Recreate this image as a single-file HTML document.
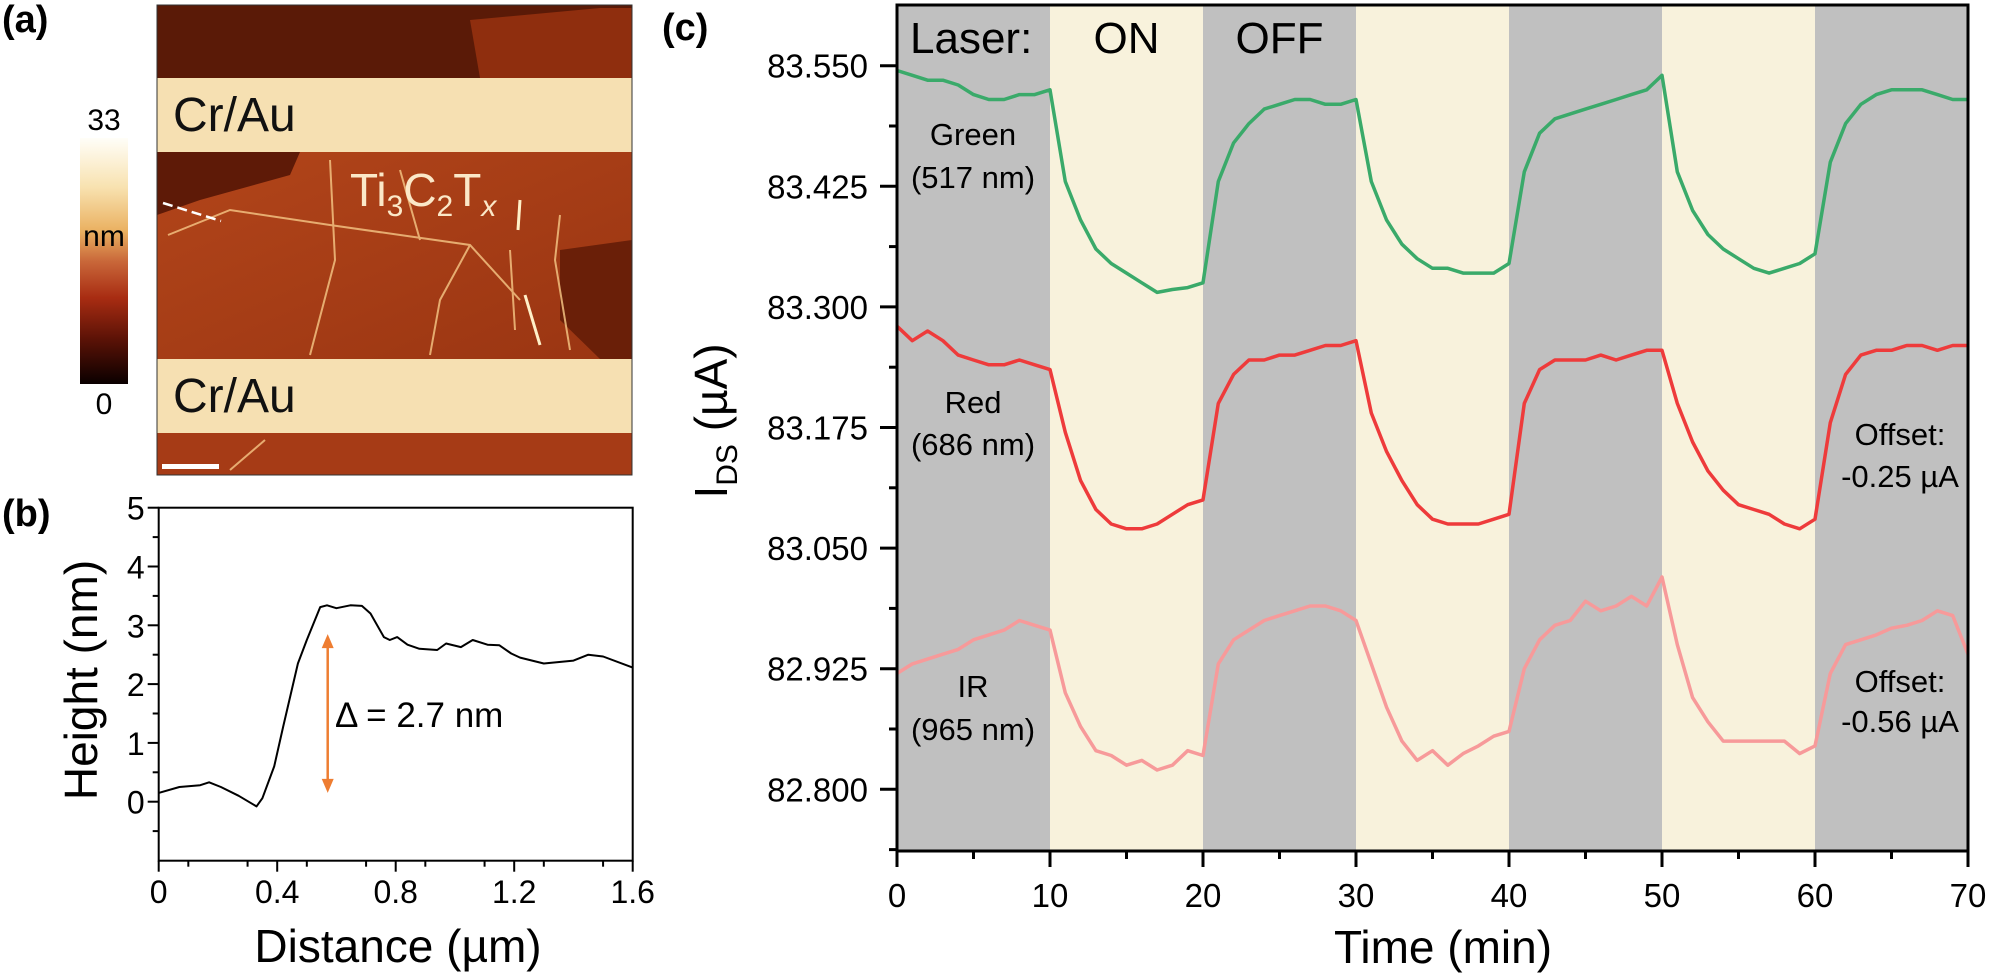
<!DOCTYPE html>
<html><head><meta charset="utf-8">
<style>
html,body{margin:0;padding:0;background:#fff;}
svg{display:block;font-family:"Liberation Sans",Arial,sans-serif;}
</style></head>
<body>
<svg id="fig" width="1994" height="977" viewBox="0 0 1994 977" xmlns="http://www.w3.org/2000/svg">
<defs>
<linearGradient id="cbar" x1="0" y1="0" x2="0" y2="1">
<stop offset="0" stop-color="#fffef8"/><stop offset="0.2" stop-color="#f8e2b0"/><stop offset="0.38" stop-color="#eab060"/><stop offset="0.5" stop-color="#c9683a"/><stop offset="0.65" stop-color="#a82c12"/><stop offset="0.82" stop-color="#5a1206"/><stop offset="1" stop-color="#0a0000"/>
</linearGradient>
<linearGradient id="flake" x1="0" y1="0" x2="1" y2="1">
<stop offset="0" stop-color="#b2451a"/><stop offset="1" stop-color="#9a3512"/>
</linearGradient>
<clipPath id="afmclip"><rect x="157" y="5" width="475" height="470"/></clipPath>
</defs>

<!-- Panel labels -->
<text x="2" y="32" font-size="38" font-weight="bold">(a)</text>
<text x="2" y="526" font-size="38" font-weight="bold">(b)</text>
<text x="662" y="40" font-size="38" font-weight="bold">(c)</text>

<!-- Colorbar -->
<g>
<rect x="80" y="138" width="48" height="246" fill="url(#cbar)"/>
<text x="104" y="130" font-size="30" text-anchor="middle">33</text>
<text x="104" y="246" font-size="30" text-anchor="middle">nm</text>
<text x="104" y="414" font-size="30" text-anchor="middle">0</text>
</g>

<!-- AFM image -->
<g clip-path="url(#afmclip)">
<rect x="157" y="5" width="475" height="470" fill="#7a2408"/>
<rect x="157" y="5" width="475" height="73" fill="#5a1a07"/>
<polygon points="470,20 600,8 632,8 632,78 480,78" fill="#8f2e0e"/>
<rect x="157" y="152" width="475" height="207" fill="url(#flake)"/>
<polygon points="157,152 300,152 290,175 200,200 157,215" fill="#5e1a07"/>
<polygon points="560,250 632,240 632,359 600,359 560,320" fill="#6a1f08"/>
<rect x="157" y="433" width="475" height="42" fill="#a63b16"/>
<rect x="157" y="78" width="475" height="74" fill="#f6e0b2"/>
<rect x="157" y="359" width="475" height="74" fill="#f6e0b2"/>
<g stroke="#f2c080" stroke-width="2" fill="none" opacity="0.85">
<path d="M168,235 L230,210 L330,225 L470,245 L520,300"/>
<path d="M330,160 L335,260 L310,355"/>
<path d="M470,245 L440,300 L430,355"/>
<path d="M510,250 L515,330"/>
<path d="M560,215 L555,260 L570,350"/>
<path d="M400,170 L420,240"/>
<path d="M230,470 L265,440"/>
</g>
<path d="M525,295 L540,345" stroke="#fff0c8" stroke-width="3"/>
<path d="M520,200 L518,230" stroke="#fff0c8" stroke-width="3"/>
<path d="M163,203 L221,221" stroke="#ffffff" stroke-width="2.5" stroke-dasharray="10,5"/>
<rect x="162" y="464" width="57" height="5" fill="#ffffff"/>
<text x="173" y="131" font-size="48" fill="#111">Cr/Au</text>
<text x="173" y="412" font-size="48" fill="#111">Cr/Au</text>
<text x="350" y="206" font-size="46" fill="#fbe8c8">Ti<tspan font-size="30" dy="10">3</tspan><tspan dy="-10">C</tspan><tspan font-size="30" dy="10">2</tspan><tspan dy="-10">T</tspan><tspan font-size="30" dy="10" font-style="italic">x</tspan></text>
</g>
<rect x="157" y="5" width="475" height="470" fill="none" stroke="#333" stroke-width="1"/>

<g id="panelB"></g>
<g id="panelC"></g>
</svg>

<script>
// ---------- Panel (b) data ----------
const profileDistance = [0,0.07,0.14,0.17,0.21,0.27,0.33,0.35,0.39,0.42,0.47,0.50,0.545,0.568,0.60,0.647,0.686,0.715,0.76,0.78,0.805,0.84,0.88,0.94,0.97,1.02,1.06,1.11,1.15,1.19,1.22,1.30,1.40,1.45,1.50,1.60];
const profileHeight   = [0.15,0.25,0.28,0.33,0.25,0.10,-0.08,0.06,0.6,1.27,2.35,2.75,3.31,3.34,3.29,3.34,3.33,3.2,2.8,2.75,2.8,2.67,2.6,2.58,2.69,2.63,2.75,2.67,2.66,2.52,2.45,2.35,2.4,2.5,2.47,2.28];
const bXTicks = [0,0.4,0.8,1.2,1.6];
const bXTickLabels = ["0","0.4","0.8","1.2","1.6"];
const bYTicks = [0,1,2,3,4,5];
const bYTickLabels = ["0","1","2","3","4","5"];
const stepBottom = 0.15, stepTop = 2.85;

// ---------- Panel (c) data ----------
const timeMin = [];
for (let i = 0; i <= 70; i++) timeMin.push(i);
const greenCurrent = [83.545,83.54,83.535,83.535,83.53,83.52,83.515,83.515,83.52,83.52,83.525,
 83.43,83.39,83.36,83.345,83.335,83.325,83.315,83.318,83.32,83.325,
 83.43,83.47,83.49,83.505,83.51,83.515,83.515,83.51,83.51,83.515,
 83.43,83.39,83.365,83.35,83.34,83.34,83.335,83.335,83.335,83.345,
 83.44,83.48,83.495,83.5,83.505,83.51,83.515,83.52,83.525,83.54,
 83.44,83.4,83.375,83.36,83.35,83.34,83.335,83.34,83.345,83.355,
 83.45,83.49,83.51,83.52,83.525,83.525,83.525,83.52,83.515,83.515];
const redCurrent = [83.28,83.265,83.275,83.265,83.25,83.245,83.24,83.24,83.245,83.24,83.235,
 83.17,83.12,83.09,83.075,83.07,83.07,83.075,83.085,83.095,83.1,
 83.2,83.23,83.245,83.245,83.25,83.25,83.255,83.26,83.26,83.265,
 83.19,83.15,83.12,83.095,83.08,83.075,83.075,83.075,83.08,83.085,
 83.2,83.235,83.245,83.245,83.245,83.25,83.245,83.25,83.255,83.255,
 83.2,83.16,83.13,83.11,83.095,83.09,83.085,83.075,83.07,83.08,
 83.18,83.23,83.25,83.255,83.255,83.26,83.26,83.255,83.26,83.26];
const irCurrent = [82.92,82.93,82.935,82.94,82.945,82.955,82.96,82.965,82.975,82.97,82.965,
 82.9,82.865,82.84,82.835,82.825,82.83,82.82,82.825,82.84,82.835,
 82.93,82.955,82.965,82.975,82.98,82.985,82.99,82.99,82.985,82.975,
 82.93,82.885,82.85,82.83,82.84,82.825,82.837,82.845,82.855,82.86,
 82.925,82.955,82.97,82.975,82.995,82.985,82.99,83.0,82.99,83.02,
 82.95,82.895,82.87,82.85,82.85,82.85,82.85,82.85,82.837,82.845,
 82.92,82.95,82.955,82.96,82.967,82.97,82.975,82.985,82.98,82.94];
const cXTicks = [0,10,20,30,40,50,60,70];
const cXTickLabels = ["0","10","20","30","40","50","60","70"];
const cYTicks = [83.55,83.425,83.3,83.175,83.05,82.925,82.8];
const cYTickLabels = ["83.550","83.425","83.300","83.175","83.050","82.925","82.800"];
const laserStart = [10,30,50];
const laserEnd = [20,40,60];

const NS = "http://www.w3.org/2000/svg";
function mk(parent, tag, attrs, text) {
  const el = document.createElementNS(NS, tag);
  for (const k in attrs) el.setAttribute(k, attrs[k]);
  if (text !== undefined) el.textContent = text;
  parent.appendChild(el);
  return el;
}

// ---------- Panel (b) ----------
(function(){
  const g = document.getElementById('panelB');
  const L = 158.7, R = 632.7, T = 507.7, B = 860.7;
  const xs = d => L + d / 1.6 * (R - L);
  const ys = h => 801.7 - h * 58.8;
  // minor ticks
  for (let d = 0.1; d < 1.6; d += 0.2) {
    const t = mk(g, 'line', {x1: xs(d), x2: xs(d), y1: B, y2: B + 6, stroke: '#000', 'stroke-width': 2});
    
    
  }
  for (let h = -0.5; h < 5; h += 1) {
    const t = mk(g, 'line', {x1: L - 6, x2: L, y1: ys(h), y2: ys(h), stroke: '#000', 'stroke-width': 2});
    
    
  }
  bXTicks.forEach((d, i) => {
    const t = mk(g, 'line', {x1: xs(d), x2: xs(d), y1: B, y2: B + 11, stroke: '#000', 'stroke-width': 2});
    
    
    const lb = mk(g, 'text', {x: xs(d), y: 903, 'font-size': 32, 'text-anchor': 'middle'}, bXTickLabels[i]);
    
    
  });
  bYTicks.forEach((h, i) => {
    const t = mk(g, 'line', {x1: L - 11, x2: L, y1: ys(h), y2: ys(h), stroke: '#000', 'stroke-width': 2});
    
    
    const lb = mk(g, 'text', {x: L - 14, y: ys(h) + 12, 'font-size': 32, 'text-anchor': 'end'}, bYTickLabels[i]);
    
    
  });
  const fr = mk(g, 'rect', {x: L, y: T, width: R - L, height: B - T, fill: 'none', stroke: '#000', 'stroke-width': 2});
  
  
  const pts = profileDistance.map((d, i) => xs(d).toFixed(1) + ',' + ys(profileHeight[i]).toFixed(1)).join(' ');
  const ln = mk(g, 'polyline', {points: pts, fill: 'none', stroke: '#000', 'stroke-width': 2, 'stroke-linejoin': 'round'});
  
  
  // arrow
  const ax = 327.7, y1 = ys(stepTop), y2 = ys(stepBottom);
  const ar = mk(g, 'line', {x1: ax, x2: ax, y1: y1 + 8, y2: y2 - 8, stroke: '#ee7d31', 'stroke-width': 2.5});
  
  
  const h1 = mk(g, 'polygon', {points: `${ax-6},${y1+14} ${ax+6},${y1+14} ${ax},${y1}`, fill: '#ee7d31'});
  
  
  const h2 = mk(g, 'polygon', {points: `${ax-6},${y2-14} ${ax+6},${y2-14} ${ax},${y2}`, fill: '#ee7d31'});
  
  
  const dl = mk(g, 'text', {x: 335, y: 727, 'font-size': 35}, 'Δ = 2.7 nm');
  
  
  const yt = mk(g, 'text', {x: 0, y: 0, 'font-size': 46, 'text-anchor': 'middle', transform: 'translate(97,680) rotate(-90)'}, 'Height (nm)');
  
  
  const xt = mk(g, 'text', {x: 398, y: 962, 'font-size': 46, 'text-anchor': 'middle'}, 'Distance (µm)');
  
  
})();

// ---------- Panel (c) ----------
(function(){
  const g = document.getElementById('panelC');
  const L = 897, R = 1968, T = 5, B = 851;
  const xs = t => L + t / 70 * (R - L);
  const ys = v => 65.7 + (83.55 - v) / 0.125 * 120.6;
  const bg = mk(g, 'rect', {x: L, y: T, width: R - L, height: B - T, fill: '#c0c0c0'});
  
  
  laserStart.forEach((s, i) => {
    const r = mk(g, 'rect', {x: xs(s), y: T, width: xs(laserEnd[i]) - xs(s), height: B - T, fill: '#f8f2dc'});
    
    
  });
  function series(vals, color, name) {
    const pts = timeMin.map((t, i) => xs(t).toFixed(1) + ',' + ys(vals[i]).toFixed(1)).join(' ');
    const p = mk(g, 'polyline', {points: pts, fill: 'none', stroke: color, 'stroke-width': 3.5, 'stroke-linejoin': 'round'});
    
    
  }
  series(greenCurrent, '#3aaa6a', 'green-series');
  series(redCurrent, '#ee3b3b', 'red-series');
  series(irCurrent, '#f79a9a', 'ir-series');
  // ticks
  for (let t = 5; t < 70; t += 10) {
    const m = mk(g, 'line', {x1: xs(t), x2: xs(t), y1: B, y2: B + 8, stroke: '#000', 'stroke-width': 3});
    
    
  }
  cXTicks.forEach((t, i) => {
    const m = mk(g, 'line', {x1: xs(t), x2: xs(t), y1: B, y2: B + 16, stroke: '#000', 'stroke-width': 3});
    
    
    const lb = mk(g, 'text', {x: xs(t), y: 907, 'font-size': 33, 'text-anchor': 'middle'}, cXTickLabels[i]);
    
    
  });
  for (let v = 83.4875; v > 82.73; v -= 0.125) {
    const m = mk(g, 'line', {x1: L - 8, x2: L, y1: ys(v), y2: ys(v), stroke: '#000', 'stroke-width': 3});
    
    
  }
  cYTicks.forEach((v, i) => {
    const m = mk(g, 'line', {x1: L - 17, x2: L, y1: ys(v), y2: ys(v), stroke: '#000', 'stroke-width': 3});
    
    
    const lb = mk(g, 'text', {x: 868, y: ys(v) + 12, 'font-size': 33, 'text-anchor': 'end'}, cYTickLabels[i]);
    
    
  });
  const fr = mk(g, 'rect', {x: L, y: T, width: R - L, height: B - T, fill: 'none', stroke: '#000', 'stroke-width': 3});
  
  
  function txt(x, y, s, name, size, anchor) {
    const e = mk(g, 'text', {x: x, y: y, 'font-size': size, 'text-anchor': anchor || 'middle'}, s);
    
    
    return e;
  }
  txt(910, 53, 'Laser:', 'laser-label', 44, 'start');
  txt(xs(15), 53, 'ON', 'laser-on-label', 44);
  txt(xs(25), 53, 'OFF', 'laser-off-label', 44);
  txt(973, 145, 'Green', 'green-label', 31);
  txt(973, 188, '(517 nm)', 'green-wavelength-label', 31);
  txt(973, 413, 'Red', 'red-label', 31);
  txt(973, 455, '(686 nm)', 'red-wavelength-label', 31);
  txt(973, 697, 'IR', 'ir-label', 31);
  txt(973, 740, '(965 nm)', 'ir-wavelength-label', 31);
  txt(1900, 445, 'Offset:', 'red-offset-label', 31);
  txt(1900, 487, '-0.25 µA', 'red-offset-value', 31);
  txt(1900, 692, 'Offset:', 'ir-offset-label', 31);
  txt(1900, 732, '-0.56 µA', 'ir-offset-value', 31);
  txt(1443, 963, 'Time (min)', 'x-axis-title', 46);
  const yt = mk(g, 'text', {x: 0, y: 0, 'font-size': 46, 'text-anchor': 'middle', transform: 'translate(727,421) rotate(-90)'});
  
  
  const t1 = mk(yt, 'tspan', {}, 'I');
  const t2 = mk(yt, 'tspan', {'font-size': 30, dy: 10}, 'DS');
  const t3 = mk(yt, 'tspan', {dy: -10}, '  (µA)');
})();
</script>
</body></html>
